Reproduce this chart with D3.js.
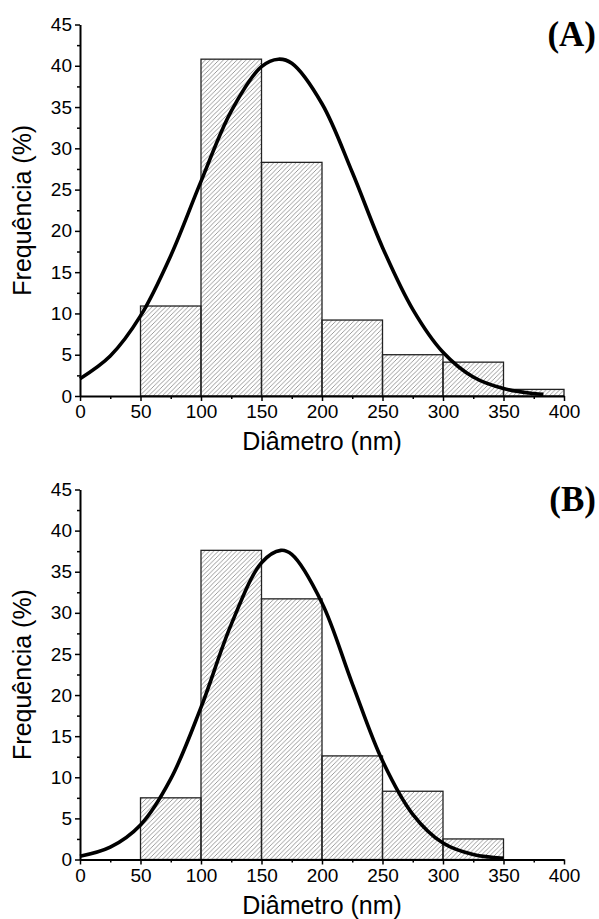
<!DOCTYPE html>
<html>
<head>
<meta charset="utf-8">
<script src="https://cdn.jsdelivr.net/npm/d3@7"></script>
<style>
  body { margin: 0; background: #fff; }
  svg text { font-family: "Liberation Sans", Arial, sans-serif; fill: #000; }
  .axis path.domain { stroke: #000; stroke-width: 2; }
  .axis line { stroke: #000; stroke-width: 1.5; }
</style>
</head>
<body>
<svg id="chart" width="599" height="919"></svg>
<script>
// bin edges (nm) shared by both histograms
const binStart = [50, 100, 150, 200, 250, 300, 350];
const binWidth = 50;

// panel A
const freqA = [10.9, 40.8, 28.3, 9.2, 5.0, 4.1, 0.8];
const fitXA = [0, 25, 50, 75, 100, 125, 150, 164, 175, 200, 225, 250, 275, 300, 325, 350, 375, 383];
const fitYA = [2.1, 4.85, 9.7, 17.0, 26.0, 34.5, 39.9, 40.8, 40.3, 35.4, 27.1, 18.0, 10.5, 5.3, 2.3, 0.9, 0.3, 0.2];

// panel B (last bin empty)
const freqB = [7.5, 37.6, 31.7, 12.6, 8.3, 2.5, 0];
const fitXB = [0, 25, 50, 75, 100, 125, 150, 166, 175, 200, 225, 250, 275, 300, 325, 350];
const fitYB = [0.4, 1.5, 4.2, 9.8, 18.5, 28.6, 36.1, 37.6, 37.1, 31.2, 21.4, 12.0, 5.5, 2.0, 0.6, 0.15];

const xTicks = [0, 50, 100, 150, 200, 250, 300, 350, 400];
const xMinor = [25, 75, 125, 175, 225, 275, 325, 375];
const yTicks = [0, 5, 10, 15, 20, 25, 30, 35, 40, 45];
const yMinor = [2.5, 7.5, 12.5, 17.5, 22.5, 27.5, 32.5, 37.5, 42.5];

const xLabel = "Diâmetro (nm)";
const yLabel = "Frequência (%)";

const svg = d3.select("#chart");

// hatch fill like the original "////" pattern
svg.append("defs").append("pattern")
  .attr("id", "hatch")
  .attr("patternUnits", "userSpaceOnUse")
  .attr("width", 4.5).attr("height", 4.5)
  .append("path")
  .attr("d", "M-1,1 l2,-2 M0,4.5 l4.5,-4.5 M3.5,5.5 l2,-2")
  .attr("stroke", "#707070")
  .attr("stroke-width", 0.7);

function drawPanel(freq, fitX, fitY, tag, y0, y45) {
  const x = d3.scaleLinear().domain([0, 400]).range([80, 564]);
  const y = d3.scaleLinear().domain([0, 45]).range([y0, y45]);
  const g = svg.append("g");

  // bars
  g.selectAll("rect.bar")
    .data(binStart.map((s, i) => ({ s: s, v: freq[i] })).filter(d => d.v > 0))
    .join("rect")
    .attr("class", "bar")
    .attr("x", d => x(d.s))
    .attr("width", d => x(d.s + binWidth) - x(d.s))
    .attr("y", d => y(d.v))
    .attr("height", d => y(0) - y(d.v))
    .attr("fill", "url(#hatch)")
    .attr("stroke", "#222")
    .attr("stroke-width", 1.3);

  // fitted curve
  const line = d3.line()
    .x(d => x(d[0]))
    .y(d => y(d[1]))
    .curve(d3.curveCatmullRom);
  g.append("path")
    .datum(fitX.map((v, i) => [v, fitY[i]]))
    .attr("d", line)
    .attr("fill", "none")
    .attr("stroke", "#000")
    .attr("stroke-width", 3.6);

  // minor ticks
  g.append("g").attr("class", "axis")
    .attr("transform", "translate(0," + y0 + ")")
    .call(d3.axisBottom(x).tickValues(xMinor).tickSize(3).tickFormat(""))
    .select(".domain").remove();
  g.append("g").attr("class", "axis")
    .attr("transform", "translate(80,0)")
    .call(d3.axisLeft(y).tickValues(yMinor).tickSize(3).tickFormat(""))
    .select(".domain").remove();

  // major axes
  const xa = g.append("g").attr("class", "axis")
    .attr("transform", "translate(0," + y0 + ")")
    .call(d3.axisBottom(x).tickValues(xTicks).tickSize(5).tickSizeOuter(0).tickPadding(4));
  xa.selectAll("text").style("font-size", "19px");

  const ya = g.append("g").attr("class", "axis")
    .attr("transform", "translate(80,0)")
    .call(d3.axisLeft(y).tickValues(yTicks).tickSize(5).tickSizeOuter(0).tickPadding(3));
  ya.selectAll("text").style("font-size", "19px");

  // titles
  g.append("text")
    .attr("x", 322).attr("y", y0 + 54)
    .attr("text-anchor", "middle")
    .style("font-size", "25px")
    .text(xLabel);

  g.append("text")
    .attr("transform", "translate(31," + ((y0 + y45) / 2) + ") rotate(-90)")
    .attr("text-anchor", "middle")
    .style("font-size", "25px")
    .text(yLabel);

  g.append("text")
    .attr("x", 596).attr("y", y45 + 21)
    .attr("text-anchor", "end")
    .style("font-family", "'Liberation Serif', 'Times New Roman', serif")
    .style("font-weight", "bold")
    .style("font-size", "35px")
    .text(tag);
}

drawPanel(freqA, fitXA, fitYA, "(A)", 396, 24.5);
drawPanel(freqB, fitXB, fitYB, "(B)", 859.5, 489.5);
</script>
</body>
</html>
